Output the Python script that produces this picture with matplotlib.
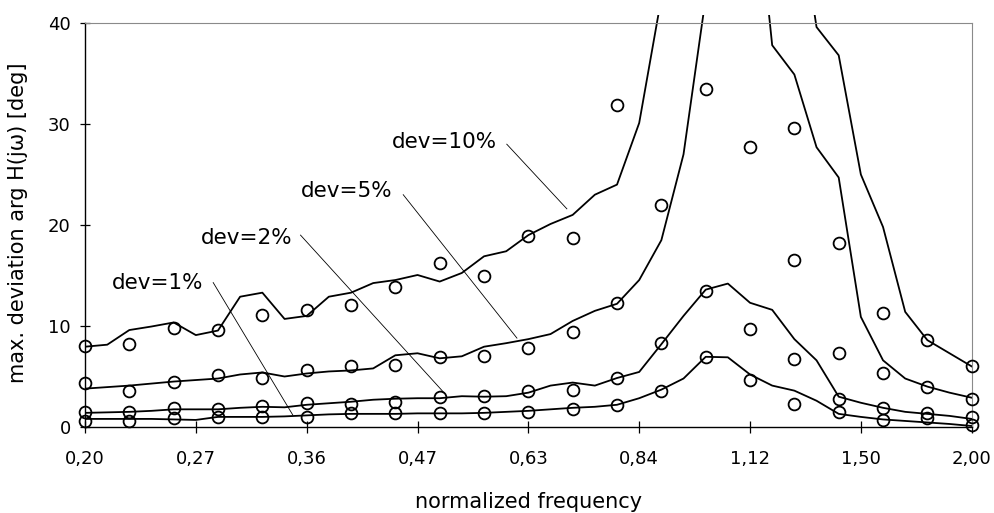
import numpy as np
import matplotlib
matplotlib.use("Agg")
import matplotlib.pyplot as plt
from matplotlib.patches import Rectangle

nan = np.nan

# frequency grid of the curves (41 points) and of the measured points (21 points)
freq_line = [0.2000, 0.2119, 0.2244, 0.2377, 0.2518, 0.2667, 0.2825, 0.2992, 0.3170, 0.3358,
             0.3557, 0.3767, 0.3991, 0.4227, 0.4477, 0.4743, 0.5024, 0.5321, 0.5637, 0.5971,
             0.6325, 0.6699, 0.7096, 0.7517, 0.7962, 0.8434, 0.8934, 0.9463, 1.0024, 1.0618,
             1.1247, 1.1913, 1.2619, 1.3367, 1.4159, 1.4998, 1.5887, 1.6828, 1.7825, 1.8881, 2.0000]
freq_pts = [0.2000, 0.2244, 0.2518, 0.2825, 0.3170, 0.3557, 0.3991, 0.4477, 0.5024, 0.5637,
            0.6325, 0.7096, 0.7962, 0.8934, 1.0024, 1.1247, 1.2619, 1.4159, 1.5887, 1.7825, 2.0000]

# curves (values above 40 are off the chart)
line_10 = [7.95, 8.15, 9.6, 9.95, 10.35, 9.1, 9.55, 12.9, 13.3, 10.7, 11.0, 12.9, 13.3, 14.25, 14.55,
           15.05, 14.4, 15.25, 16.9, 17.4, 19.0, 20.1, 21.0, 23.0, 24.0, 30.1, 42.5, nan, nan, nan,
           nan, nan, 54.0, 39.6, 36.8, 25.0, 19.8, 11.4, 8.6, 7.3, 6.0]
line_5 = [3.8, 3.95, 4.1, 4.3, 4.5, 4.65, 4.8, 5.2, 5.4, 5.0, 5.3, 5.5, 5.6, 5.8, 7.1, 7.3, 6.8, 7.0,
          7.95, 8.3, 8.7, 9.2, 10.5, 11.5, 12.2, 14.55, 18.5, 27.0, 42.5, nan, 59.0, 37.8, 34.9, 27.7,
          24.7, 10.9, 6.6, 4.8, 4.0, 3.4, 2.9]
line_2 = [1.4, 1.45, 1.5, 1.6, 1.75, 1.75, 1.75, 1.9, 2.0, 1.95, 2.2, 2.35, 2.5, 2.7, 2.8, 2.85, 2.85,
          3.05, 3.0, 3.05, 3.4, 4.1, 4.4, 4.1, 4.85, 5.45, 8.2, 11.0, 13.6, 14.2, 12.3, 11.6, 8.7, 6.6,
          3.0, 2.4, 1.9, 1.5, 1.3, 1.1, 0.8]
line_1 = [0.8, 0.8, 0.8, 0.8, 0.75, 0.7, 1.0, 1.0, 1.0, 1.05, 1.15, 1.25, 1.3, 1.3, 1.3, 1.35, 1.35,
          1.35, 1.4, 1.5, 1.6, 1.75, 1.9, 2.0, 2.2, 2.85, 3.7, 4.8, 6.95, 6.9, 5.2, 4.1, 3.6, 2.6, 1.3,
          1.0, 0.75, 0.6, 0.45, 0.3, 0.1]

# measured points (nan = off the chart)
pts_10 = [8.0, 8.2, 9.8, 9.6, 11.1, 11.6, 12.1, 13.9, 16.2, 15.0, 18.9, 18.7, 31.9, nan, nan, nan,
          29.6, 18.2, 11.3, 8.6, 6.0]
pts_5 = [4.4, 3.6, 4.5, 5.1, 4.9, 5.6, 6.0, 6.1, 6.9, 7.0, 7.8, 9.4, 12.3, 22.0, 33.5, 27.7, 16.5,
         7.3, 5.3, 4.0, 2.8]
pts_2 = [1.5, 1.5, 1.9, 1.8, 2.1, 2.35, 2.3, 2.5, 3.0, 3.1, 3.6, 3.65, 4.9, 8.3, 13.5, 9.7, 6.7, 2.8,
         1.9, 1.4, 1.0]
pts_1 = [0.6, 0.6, 0.85, 1.0, 1.0, 0.95, 1.35, 1.35, 1.35, 1.35, 1.45, 1.8, 2.2, 3.6, 6.9, 4.65, 2.3,
         1.5, 0.7, 0.9, 0.2]

tick_values = [0.2, 0.2667, 0.3557, 0.4743, 0.6325, 0.8434, 1.1247, 1.4998, 2.0]
tick_labels = ["0,20", "0,27", "0,36", "0,47", "0,63", "0,84", "1,12", "1,50", "2,00"]
y_ticks = [0, 10, 20, 30, 40]

labels = ["dev=10%", "dev=5%", "dev=2%", "dev=1%"]

plt.rcParams['font.family'] = ['DejaVu Sans']

fig = plt.figure(figsize=(9.94, 5.13), dpi=100)
ax = fig.add_axes([85 / 994, 1 - 427 / 513, 886.7 / 994, 404 / 513])
ax.set_xscale('log')

clip_rect = Rectangle((0, 0), 1, 1.02, transform=ax.transAxes)
for ys in (line_10, line_5, line_2, line_1):
    ln, = ax.plot(freq_line, ys, color='black', lw=1.3, solid_joinstyle='round')
    ln.set_clip_path(clip_rect)

for ys in (pts_10, pts_5, pts_2, pts_1):
    ax.plot(freq_pts, ys, linestyle='none', marker='o', ms=8.5, mfc='none', mec='black',
            mew=1.3, clip_on=False, zorder=3)

ax.set_xlim(0.2, 2.0)
ax.set_ylim(0, 40)

ax.xaxis.set_major_locator(matplotlib.ticker.FixedLocator(tick_values))
ax.xaxis.set_minor_locator(matplotlib.ticker.NullLocator())
ax.set_xticklabels(tick_labels)
ax.set_yticks(y_ticks)
ax.tick_params(axis='x', direction='inout', length=8, width=0.9, pad=12.5, labelsize=13)
ax.tick_params(axis='y', direction='inout', length=6.5, width=0.9, pad=7, labelsize=13)

for s in ('left', 'bottom'):
    ax.spines[s].set_color('black')
    ax.spines[s].set_linewidth(1.0)
for s in ('top', 'right'):
    ax.spines[s].set_color('#8a8a8a')
    ax.spines[s].set_linewidth(0.8)

ax.set_xlabel('normalized frequency', fontsize=15, va='center')
ax.xaxis.set_label_coords(0.5, -0.186)
ax.set_ylabel('max. deviation arg H(jω) [deg]', fontsize=15, va='center')
ax.yaxis.set_label_coords(-0.076, 0.506)

# annotation text positions and leader lines (data coordinates)
text_pos = [(0.583, 28.2), (0.445, 23.4), (0.343, 18.7), (0.272, 14.3)]
leaders = [((0.598, 28.0), (0.699, 21.6)),
           ((0.457, 23.0), (0.614, 8.8)),
           ((0.350, 19.0), (0.508, 3.4)),
           ((0.279, 14.3), (0.343, 1.2))]
for lab, (tx, ty), ((x0, y0), (x1, y1)) in zip(labels, text_pos, leaders):
    ax.text(tx, ty, lab, ha='right', va='center', fontsize=15.5)
    ax.plot([x0, x1], [y0, y1], color='black', lw=0.6)

fig.savefig('out.png', dpi=100)
